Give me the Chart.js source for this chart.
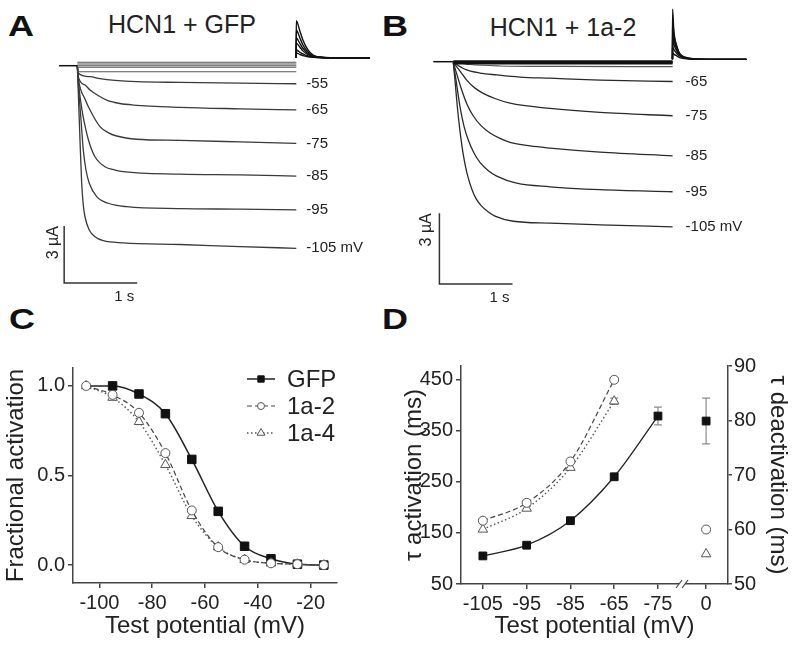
<!DOCTYPE html>
<html>
<head>
<meta charset="utf-8">
<title>HCN1 activation figure</title>
<script src="https://cdn.jsdelivr.net/npm/chart.js@4.4.1/dist/chart.umd.min.js"></script>
<style>
html,body{margin:0;padding:0;background:#fff;}
body{position:relative;width:800px;height:648px;overflow:hidden;font-family:'Liberation Sans',Arial,Helvetica,sans-serif;color:#222;}
canvas{position:absolute;}
.letter{position:absolute;font-weight:bold;font-size:30px;line-height:30px;transform:scaleX(1.2);transform-origin:left top;color:#111;}
.ptitle{position:absolute;width:300px;text-align:center;font-size:25px;line-height:25px;white-space:nowrap;}
</style>
</head>
<body>
<div class="letter" style="left:8px;top:11px">A</div>
<div class="letter" style="left:382px;top:11px">B</div>
<div class="letter" style="left:9px;top:304px">C</div>
<div class="letter" style="left:382px;top:304px">D</div>
<div class="ptitle" style="left:32px;top:12px">HCN1 + GFP</div>
<div class="ptitle" style="left:413px;top:15px">HCN1 + 1a-2</div>
<canvas id="cA" width="400" height="320" style="left:0;top:0;width:400px;height:320px"></canvas>
<canvas id="cB" width="400" height="320" style="left:400px;top:0;width:400px;height:320px"></canvas>
<canvas id="cC" width="400" height="348" style="left:0;top:300px;width:400px;height:348px"></canvas>
<canvas id="cD" width="400" height="348" style="left:400px;top:300px;width:400px;height:348px"></canvas>
<script>
// ---------------- DATA ----------------
// Panel A (HCN1 + GFP): time (s) and current (µA)
const A_labels = ['-55', '-65', '-75', '-85', '-95', '-105 mV'];
const A_hold_t = [-0.25, 0];
const A_hold_i = [0, 0];
const A_step_t = [0, 3];
const A_flat_i = [0.18, 0.09, 0.0, -0.08, -0.32];
const A_t_55  = [0, 0.014, 0.174, 0.311, 0.516, 0.814, 1.407, 2.229, 3.0];
const A_i_55  = [0, -0.40, -0.58, -0.68, -0.77, -0.84, -0.88, -0.92, -0.95];
const A_t_65  = [0, 0.014, 0.105, 0.174, 0.284, 0.403, 0.585, 0.767, 1.407, 2.229, 3.0];
const A_i_65  = [0, -0.59, -1.02, -1.28, -1.57, -1.81, -1.99, -2.07, -2.19, -2.27, -2.33];
const A_t_75  = [0, 0.018, 0.105, 0.174, 0.311, 0.421, 0.540, 0.814, 1.407, 2.229, 3.0];
const A_i_75  = [0, -0.75, -1.75, -2.33, -3.21, -3.52, -3.70, -3.87, -3.93, -4.01, -4.09];
const A_t_85  = [0, 0.018, 0.064, 0.129, 0.174, 0.242, 0.379, 0.516, 0.630, 1.407, 2.229, 3.0];
const A_i_85  = [0, -0.96, -2.33, -3.56, -4.17, -4.79, -5.32, -5.49, -5.58, -5.71, -5.75, -5.81];
const A_t_95  = [0, 0.018, 0.051, 0.082, 0.119, 0.164, 0.266, 0.425, 0.677, 1.407, 2.229, 3.0];
const A_i_95  = [0, -1.19, -2.86, -4.43, -5.49, -6.19, -6.89, -7.24, -7.42, -7.52, -7.55, -7.59];
const A_t_105 = [0, 0.014, 0.037, 0.060, 0.082, 0.105, 0.164, 0.242, 0.356, 0.630, 1.407, 2.229, 3.0];
const A_i_105 = [0, -1.45, -3.91, -6.19, -7.33, -7.95, -8.65, -9.00, -9.21, -9.32, -9.41, -9.52, -9.61];
const A_tail_t  = [2.998, 3.0, 3.045, 3.09, 3.16, 3.23, 3.36, 3.6, 4.01];
const A_tail1_i = [0.42, 2.37, 1.88, 1.35, 0.83, 0.56, 0.44, 0.42, 0.42];
const A_tail2_i = [0.42, 1.88, 1.50, 1.10, 0.72, 0.52, 0.44, 0.42, 0.42];
const A_tail3_i = [0.42, 1.46, 1.20, 0.92, 0.64, 0.50, 0.43, 0.42, 0.42];
const A_tail4_i = [0.42, 1.19, 1.00, 0.78, 0.58, 0.48, 0.43, 0.42, 0.42];
const A_tail5_i = [0.42, 0.83, 0.72, 0.62, 0.51, 0.45, 0.42, 0.42, 0.42];
const A_tail6_i = [0.42, 0.67, 0.60, 0.53, 0.47, 0.44, 0.42, 0.42, 0.42];
const A_bar_t = [-0.18, -0.18, 0.82];      // scale bar: 1 s
const A_bar_i = [-8.44, -11.44, -11.44];   // scale bar: 3 µA

// Panel B (HCN1 + 1a-2)
const B_labels = ['-65', '-75', '-85', '-95', '-105 mV'];
const B_hold_t = [-0.274, 0];
const B_hold_i = [0, 0];
const B_step_t = [0, 3];
const B_flat_i = [0.03, 0.0, -0.04, -0.08];
const B_t_55  = [0, 0.228, 0.64, 1.46, 3.0];
const B_i_55  = [-0.01, -0.12, -0.18, -0.20, -0.21];
const B_t_65  = [0, 0.183, 0.365, 0.594, 0.912, 1.323, 2.007, 3.0];
const B_i_65  = [-0.04, -0.35, -0.48, -0.56, -0.65, -0.70, -0.78, -0.84];
const B_t_75  = [0, 0.092, 0.183, 0.297, 0.410, 0.570, 0.776, 1.323, 2.007, 3.0];
const B_i_75  = [-0.04, -0.40, -0.78, -1.12, -1.34, -1.56, -1.76, -1.98, -2.15, -2.29];
const B_t_85  = [0, 0.051, 0.115, 0.187, 0.274, 0.379, 0.502, 0.639, 0.776, 1.049, 1.323, 2.007, 3.0];
const B_i_85  = [-0.04, -0.56, -1.20, -1.80, -2.30, -2.71, -3.02, -3.25, -3.42, -3.57, -3.66, -3.83, -3.99];
const B_t_95  = [0, 0.037, 0.092, 0.146, 0.205, 0.283, 0.365, 0.475, 0.594, 0.867, 1.323, 2.007, 3.0];
const B_i_95  = [-0.04, -0.78, -1.91, -2.73, -3.32, -3.87, -4.27, -4.61, -4.85, -5.15, -5.30, -5.42, -5.51];
const B_t_105 = [0, 0.023, 0.055, 0.092, 0.137, 0.187, 0.251, 0.311, 0.388, 0.475, 0.570, 0.821, 1.323, 2.007, 3.0];
const B_i_105 = [-0.04, -0.78, -1.91, -2.95, -3.95, -4.72, -5.38, -5.80, -6.12, -6.36, -6.54, -6.76, -6.84, -6.91, -7.00];
const B_tail_t  = [2.998, 3.0, 3.016, 3.06, 3.10, 3.17, 3.3, 3.6, 4.01];
const B_tail1_i = [0.10, 2.22, 1.34, 0.64, 0.33, 0.19, 0.12, 0.10, 0.10];
const B_tail2_i = [0.10, 1.85, 1.20, 0.60, 0.32, 0.18, 0.12, 0.10, 0.10];
const B_tail3_i = [0.10, 1.26, 0.95, 0.52, 0.30, 0.17, 0.11, 0.10, 0.10];
const B_tail4_i = [0.10, 0.92, 0.74, 0.44, 0.27, 0.16, 0.11, 0.10, 0.10];
const B_tail5_i = [0.10, 0.62, 0.52, 0.34, 0.23, 0.14, 0.11, 0.10, 0.10];
const B_tail6_i = [0.10, 0.37, 0.32, 0.24, 0.17, 0.13, 0.10, 0.10, 0.10];
const B_bar_t = [-0.19, -0.19, 0.81];
const B_bar_i = [-6.42, -9.42, -9.42];

// Panel C: fractional activation
const vC       = [-105, -95, -85, -75, -65, -55, -45, -35, -25, -15];
const gfpC     = [1.0, 1.0, 0.955, 0.845, 0.59, 0.30, 0.105, 0.035, 0.005, 0.0];
const a2C      = [1.0, 0.95, 0.85, 0.625, 0.305, 0.10, 0.03, 0.01, 0.005, 0.0];
const a4C      = [1.0, 0.935, 0.80, 0.56, 0.275, 0.10, 0.03, 0.01, 0.005, 0.0];
const xTicksC  = [-100, -80, -60, -40, -20];
const yTicksC  = [0, 0.5, 1.0];

// Panel D: time constants
const xLabD      = ['-105', '-95', '-85', '-65', '-75', '0'];
const xPosD      = [1, 2, 3, 4, 5, 6.1];
const gfpActD    = [105, 126, 174, 260, 379];
const gfpActErr  = [0, 0, 0, 0, 17.5];
const a2ActD     = [174, 209, 290, 450];
const a4ActD     = [157, 198, 278, 408];
const a4ActErr   = [0, 0, 0, 6];
const gfpDeactD  = [79.9];
const gfpDeactErr= [4.2];
const a2DeactD   = [60.0];
const a4DeactD   = [55.5];
const yTicksDL   = [50, 150, 250, 350, 450];
const yTicksDR   = [50, 60, 70, 80, 90];

// ---------------- RENDERING ----------------
const FONT = "'Liberation Sans', Arial, Helvetica, sans-serif";
Chart.defaults.font.family = FONT;
Chart.defaults.color = '#222';
Chart.defaults.animation = false;
Chart.defaults.responsive = false;
Chart.defaults.maintainAspectRatio = false;
Chart.defaults.devicePixelRatio = 1;
Chart.defaults.events = [];
Chart.defaults.plugins.legend.display = false;
Chart.defaults.plugins.tooltip.enabled = false;

const pts = (xs, ys) => xs.map((x, k) => ({x: x, y: ys[k]}));
const line = (xs, ys, color, width, extra) => Object.assign({
  data: pts(xs, ys), borderColor: color, borderWidth: width, pointRadius: 0,
  fill: false, cubicInterpolationMode: 'monotone'
}, extra || {});

function drawMarker(ctx, style, x, y, r) {
  ctx.beginPath();
  if (style === 'rect') {
    const s = Math.SQRT1_2 * r; ctx.rect(x - s, y - s, 2 * s, 2 * s);
  } else if (style === 'triangle') {
    let a = 0;
    ctx.moveTo(x + Math.sin(a) * r, y - Math.cos(a) * r);
    a += 2 * Math.PI / 3; ctx.lineTo(x + Math.sin(a) * r, y - Math.cos(a) * r);
    a += 2 * Math.PI / 3; ctx.lineTo(x + Math.sin(a) * r, y - Math.cos(a) * r);
    ctx.closePath();
  } else {
    ctx.arc(x, y, r, 0, 2 * Math.PI);
  }
  ctx.fill(); ctx.stroke();
}

const tracePlugin = {
  id: 'traceText',
  afterDatasetsDraw(chart, args, o) {
    const ctx = chart.ctx, xs = chart.scales.x, ys = chart.scales.y;
    ctx.save();
    ctx.fillStyle = '#222';
    ctx.font = '15px ' + FONT; ctx.textBaseline = 'middle'; ctx.textAlign = 'left';
    o.items.forEach(it => ctx.fillText(it.text, xs.getPixelForValue(it.t) + o.gap, ys.getPixelForValue(it.i)));
    const bx = xs.getPixelForValue(o.barT[0]);
    const byTop = ys.getPixelForValue(o.barI[0]);
    const byBot = ys.getPixelForValue(o.barI[1]);
    const bxEnd = xs.getPixelForValue(o.barT[2]);
    ctx.save();
    ctx.font = '16px ' + FONT;
    ctx.translate(bx - o.vGap, byTop); ctx.rotate(-Math.PI / 2);
    ctx.textAlign = 'right'; ctx.textBaseline = 'middle';
    ctx.fillText('3 µA', 0, 0);
    ctx.restore();
    ctx.font = '15px ' + FONT; ctx.textAlign = 'right'; ctx.textBaseline = 'alphabetic';
    ctx.fillText('1 s', bxEnd - 3, byBot + 18);
    ctx.restore();
  }
};

function tracePanel(id, d, ranges, textOpts) {
  new Chart(document.getElementById(id), {
    type: 'line',
    data: {datasets: d},
    options: {
      layout: {padding: 0},
      clip: false,
      scales: {
        x: {type: 'linear', display: false, min: ranges[0], max: ranges[1]},
        y: {type: 'linear', display: false, min: ranges[2], max: ranges[3]}
      },
      plugins: {traceText: textOpts}
    },
    plugins: [tracePlugin]
  });
}

// Panel A
(function () {
  const tc = '#3a3a3a', tw = 1.3, kc = '#111';
  const T = [A_t_55, A_t_65, A_t_75, A_t_85, A_t_95, A_t_105];
  const I = [A_i_55, A_i_65, A_i_75, A_i_85, A_i_95, A_i_105];
  const ds = [line(A_hold_t, A_hold_i, '#111', 1.5)];
  A_flat_i.forEach(v => ds.push(line(A_step_t, [v, v], '#555', 1.1)));
  T.forEach((t, k) => ds.push(line(t, I[k], tc, tw)));
  [A_tail1_i, A_tail2_i, A_tail3_i, A_tail4_i, A_tail5_i, A_tail6_i].forEach(v => ds.push(line(A_tail_t, v, kc, 1.4)));
  ds.push(line(A_bar_t, A_bar_i, '#333', 1.5, {cubicInterpolationMode: 'default', tension: 0}));
  const items = T.map((t, k) => ({text: A_labels[k], t: t[t.length - 1], i: I[k][I[k].length - 1]}));
  tracePanel('cA', ds, [-77.3 / 73, 322.7 / 73, (65.7 - 320) / 19, 65.7 / 19],
    {items: items, gap: 10, barT: A_bar_t, barI: A_bar_i, vGap: 11});
})();

// Panel B
(function () {
  const tc = '#2a2a2a', tw = 1.3, kc = '#111';
  const T = [B_t_65, B_t_75, B_t_85, B_t_95, B_t_105];
  const I = [B_i_65, B_i_75, B_i_85, B_i_95, B_i_105];
  const ds = [line(B_hold_t, B_hold_i, '#111', 1.5)];
  B_flat_i.forEach(v => ds.push(line(B_step_t, [v, v], '#111', 1.6)));
  ds.push(line(B_t_55, B_i_55, '#555', 1.1));
  T.forEach((t, k) => ds.push(line(t, I[k], tc, tw)));
  [B_tail1_i, B_tail2_i, B_tail3_i, B_tail4_i, B_tail5_i, B_tail6_i].forEach(v => ds.push(line(B_tail_t, v, kc, 1.4)));
  ds.push(line(B_bar_t, B_bar_i, '#333', 1.5, {cubicInterpolationMode: 'default', tension: 0}));
  const items = T.map((t, k) => ({text: B_labels[k], t: t[t.length - 1], i: I[k][I[k].length - 1]}));
  tracePanel('cB', ds, [-53.3 / 73.1, 346.7 / 73.1, (61.7 - 320) / 23.6, 61.7 / 23.6],
    {items: items, gap: 13, barT: B_bar_t, barI: B_bar_i, vGap: 13});
})();

const axisCommon = (extra) => Object.assign({
  type: 'linear',
  grid: {display: true, drawOnChartArea: false, drawTicks: true, tickLength: 5, color: '#444', lineWidth: 1.5},
  border: {display: true, color: '#444', width: 1.5},
  ticks: {font: {size: 20}, color: '#222', padding: 3, autoSkip: false, maxRotation: 0}
}, extra);

// Panel C
const legendCPlugin = {
  id: 'legendC',
  afterDatasetsDraw(chart, args, o) {
    const ctx = chart.ctx;
    ctx.save();
    o.rows.forEach((r, k) => {
      const ds = chart.data.datasets[r.ds];
      const y = o.y0 + k * o.dy;
      ctx.strokeStyle = ds.borderColor; ctx.lineWidth = ds.borderWidth;
      ctx.setLineDash(ds.borderDash || []);
      ctx.beginPath(); ctx.moveTo(o.x0, y); ctx.lineTo(o.x0 + o.len, y); ctx.stroke();
      ctx.setLineDash([]);
      ctx.fillStyle = ds.pointBackgroundColor; ctx.strokeStyle = ds.pointBorderColor; ctx.lineWidth = 1;
      drawMarker(ctx, ds.pointStyle, o.x0 + o.len / 2, y, r.radius);
      ctx.fillStyle = '#222'; ctx.font = '24px ' + FONT;
      ctx.textBaseline = 'middle'; ctx.textAlign = 'left';
      ctx.fillText(ds.label, o.x0 + o.len + o.gap, y + 1);
    });
    ctx.restore();
  }
};

new Chart(document.getElementById('cC'), {
  type: 'line',
  data: {datasets: [
    line(vC, a2C, '#444', 1.2, {label: '1a-2', borderDash: [5, 3], pointRadius: 4.5, pointStyle: 'circle',
      pointBackgroundColor: '#fff', pointBorderColor: '#555', pointBorderWidth: 1}),
    line(vC, a4C, '#555', 1.4, {label: '1a-4', borderDash: [1.5, 2.5], pointRadius: 5.5, pointStyle: 'triangle',
      pointBackgroundColor: '#fff', pointBorderColor: '#555', pointBorderWidth: 1}),
    line(vC, gfpC, '#222', 1.5, {label: 'GFP', pointRadius: vC.map((v, k) => k === 0 ? 0 : 6), pointStyle: 'rect',
      pointBackgroundColor: '#111', pointBorderColor: '#111', pointBorderWidth: 1})
  ]},
  options: {
    layout: {padding: {top: 68, right: 63, left: 0, bottom: 0}},
    clip: false,
    scales: {
      x: axisCommon({min: -110, max: -10,
        afterBuildTicks: s => { s.ticks = xTicksC.map(v => ({value: v})); },
        afterFit: s => { s.height = 65; },
        title: {display: true, text: 'Test potential (mV)', font: {size: 24}, color: '#222', padding: {top: 0, bottom: 7}}
      }),
      y: axisCommon({min: -0.1, max: 1.1,
        afterBuildTicks: s => { s.ticks = yTicksC.map(v => ({value: v})); },
        afterFit: s => { s.width = 73; },
        ticks: {font: {size: 20}, color: '#222', padding: 3, autoSkip: false, callback: v => v.toFixed(1)},
        title: {display: true, text: 'Fractional activation', font: {size: 24}, color: '#222', padding: {top: 2, bottom: 0}}
      })
    },
    plugins: {legendC: {x0: 247, len: 28, gap: 12, y0: 79, dy: 27,
      rows: [{ds: 2, radius: 4.5}, {ds: 0, radius: 3.5}, {ds: 1, radius: 4.5}]}}
  },
  plugins: [legendCPlugin]
});

// Panel D
const errPlugin = {
  id: 'errBars',
  beforeDatasetsDraw(chart) {
    const ctx = chart.ctx;
    chart.data.datasets.forEach((ds, di) => {
      if (!ds.errs) return;
      const meta = chart.getDatasetMeta(di);
      const ys = chart.scales[ds.yAxisID || 'y'];
      ds.data.forEach((p, k) => {
        const e = ds.errs[k]; if (!e) return;
        const x = meta.data[k].x;
        const y1 = ys.getPixelForValue(p.y + e), y2 = ys.getPixelForValue(p.y - e);
        ctx.save(); ctx.strokeStyle = '#8c8c8c'; ctx.lineWidth = 1.2;
        ctx.beginPath();
        ctx.moveTo(x, y1); ctx.lineTo(x, y2);
        ctx.moveTo(x - 4, y1); ctx.lineTo(x + 4, y1);
        ctx.moveTo(x - 4, y2); ctx.lineTo(x + 4, y2);
        ctx.stroke(); ctx.restore();
      });
    });
  }
};
const breakPlugin = {
  id: 'axisBreak',
  afterDraw(chart, args, o) {
    const ctx = chart.ctx;
    const x = chart.scales.x.getPixelForValue(o.at), y = chart.chartArea.bottom;
    ctx.save();
    ctx.fillStyle = '#fff'; ctx.fillRect(x - 3, y - 3, 6, 6);
    ctx.strokeStyle = '#444'; ctx.lineWidth = 1.2;
    ctx.beginPath();
    [-3, 3].forEach(d => { ctx.moveTo(x + d - 3, y + 4); ctx.lineTo(x + d + 3, y - 4); });
    ctx.stroke(); ctx.restore();
  }
};

new Chart(document.getElementById('cD'), {
  type: 'line',
  data: {datasets: [
    line(xPosD.slice(0, 5), gfpActD, '#222', 1.3, {yAxisID: 'y', errs: gfpActErr, pointRadius: 5.5, pointStyle: 'rect',
      pointBackgroundColor: '#111', pointBorderColor: '#111', pointBorderWidth: 1}),
    line(xPosD.slice(0, 4), a2ActD, '#444', 1.2, {yAxisID: 'y', borderDash: [5, 3], pointRadius: 4.5, pointStyle: 'circle',
      pointBackgroundColor: '#fff', pointBorderColor: '#555', pointBorderWidth: 1}),
    line(xPosD.slice(0, 4), a4ActD, '#555', 1.4, {yAxisID: 'y', errs: a4ActErr, borderDash: [1.5, 2.5], pointRadius: 5.5, pointStyle: 'triangle',
      pointBackgroundColor: '#fff', pointBorderColor: '#555', pointBorderWidth: 1}),
    line(xPosD.slice(5), gfpDeactD, '#222', 1, {yAxisID: 'y1', showLine: false, errs: gfpDeactErr, pointRadius: 5.5, pointStyle: 'rect',
      pointBackgroundColor: '#111', pointBorderColor: '#111', pointBorderWidth: 1}),
    line(xPosD.slice(5), a2DeactD, '#444', 1, {yAxisID: 'y1', showLine: false, pointRadius: 4.5, pointStyle: 'circle',
      pointBackgroundColor: '#fff', pointBorderColor: '#555', pointBorderWidth: 1}),
    line(xPosD.slice(5), a4DeactD, '#444', 1, {yAxisID: 'y1', showLine: false, pointRadius: 5.5, pointStyle: 'triangle',
      pointBackgroundColor: '#fff', pointBorderColor: '#555', pointBorderWidth: 1})
  ]},
  options: {
    layout: {padding: {top: 66, right: 0, left: 0, bottom: 0}},
    clip: false,
    scales: {
      x: axisCommon({min: 0.5, max: 6.6,
        afterBuildTicks: s => { s.ticks = xPosD.map(v => ({value: v})); },
        afterFit: s => { s.height = 64; },
        ticks: {font: {size: 20}, color: '#222', padding: 3, autoSkip: false, maxRotation: 0,
          callback: v => xLabD[xPosD.indexOf(v)]},
        title: {display: true, text: 'Test potential (mV)', font: {size: 24}, color: '#222', padding: {top: 0, bottom: 7}}
      }),
      y: axisCommon({position: 'left', min: 50, max: 477,
        afterBuildTicks: s => { s.ticks = yTicksDL.map(v => ({value: v})); },
        afterFit: s => { s.width = 61; },
        title: {display: true, text: 'τ activation (ms)', font: {size: 24}, color: '#222', padding: {top: 0, bottom: 0}}
      }),
      y1: axisCommon({position: 'right', min: 50, max: 90,
        afterBuildTicks: s => { s.ticks = yTicksDR.map(v => ({value: v})); },
        afterFit: s => { s.width = 72; },
        grid: {display: true, drawOnChartArea: false, drawTicks: true, tickLength: 4, color: '#444', lineWidth: 1.5},
        ticks: {font: {size: 20}, color: '#222', padding: 2, autoSkip: false},
        title: {display: true, text: 'τ deactivation (ms)', font: {size: 24}, color: '#222', padding: {top: 8, bottom: 0}}
      })
    },
    plugins: {axisBreak: {at: 5.55}}
  },
  plugins: [errPlugin, breakPlugin]
});
</script>
</body>
</html>
